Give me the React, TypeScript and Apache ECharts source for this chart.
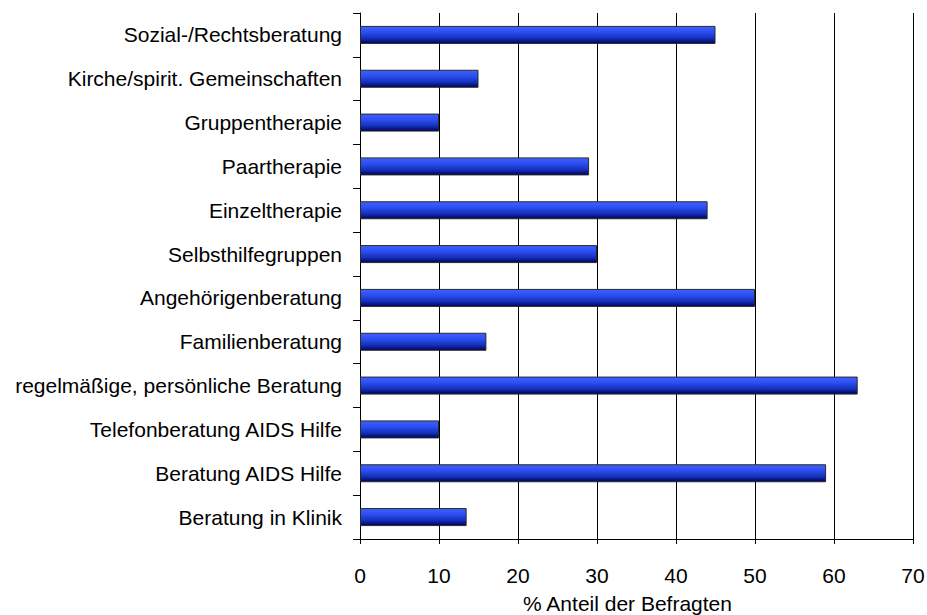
import React, { useEffect, useRef } from "react";
import * as echarts from "echarts";

// Angebote, von oben nach unten
const categories = [
  "Sozial-/Rechtsberatung",
  "Kirche/spirit. Gemeinschaften",
  "Gruppentherapie",
  "Paartherapie",
  "Einzeltherapie",
  "Selbsthilfegruppen",
  "Angehörigenberatung",
  "Familienberatung",
  "regelmäßige, persönliche Beratung",
  "Telefonberatung AIDS Hilfe",
  "Beratung AIDS Hilfe",
  "Beratung in Klinik",
];

// % Anteil der Befragten
const values = [45, 15, 10, 29, 44, 30, 50, 16, 63, 10, 59, 13.5];

const axisTitle = "% Anteil der Befragten";

const FONT = "'Liberation Sans', Arial, sans-serif";
const FS = 21;

export default function App() {
  const ref = useRef<HTMLDivElement>(null);

  useEffect(() => {
    document.body.style.margin = "0";
    document.body.style.overflow = "hidden";
    if (!ref.current) return;
    const chart = echarts.init(ref.current, null, { renderer: "svg" });
    chart.setOption({
      animation: false,
      backgroundColor: "#ffffff",
      grid: {
        left: 360,
        right: 14,
        top: 13,
        bottom: 76,
        containLabel: false,
        outerBoundsMode: "none",
      },
      xAxis: {
        type: "value",
        min: 0,
        max: 70,
        interval: 10,
        name: axisTitle,
        nameLocation: "middle",
        nameGap: 54,
        nameTextStyle: {
          fontFamily: FONT,
          fontSize: FS,
          color: "#000",
          padding: [0, 18, 0, 0],
        },
        axisLine: { show: true, lineStyle: { color: "#000", width: 1 } },
        axisTick: { show: true, length: 5, lineStyle: { color: "#000" } },
        axisLabel: {
          fontFamily: FONT,
          fontSize: FS,
          color: "#000",
          margin: 26,
        },
        splitLine: { show: true, lineStyle: { color: "#000", width: 1 } },
      },
      yAxis: {
        type: "category",
        data: categories,
        inverse: true,
        axisLine: { show: true, lineStyle: { color: "#000", width: 1 } },
        axisTick: { show: true, length: 7, lineStyle: { color: "#000" } },
        axisLabel: {
          fontFamily: FONT,
          fontSize: FS,
          color: "#000",
          margin: 18,
        },
        splitLine: { show: false },
      },
      series: [
        {
          type: "bar",
          data: values,
          barWidth: 18,
          itemStyle: {
            color: new echarts.graphic.LinearGradient(0, 0, 0, 1, [
              { offset: 0, color: "#3f62fb" },
              { offset: 0.35, color: "#2b4df2" },
              { offset: 0.7, color: "#1530b8" },
              { offset: 1, color: "#00005e" },
            ]),
            borderColor: "#2a2a2a",
            borderWidth: 1,
          },
        },
      ],
    });
    return () => chart.dispose();
  }, []);

  return <div ref={ref} style={{ width: 927, height: 615 }} />;
}
